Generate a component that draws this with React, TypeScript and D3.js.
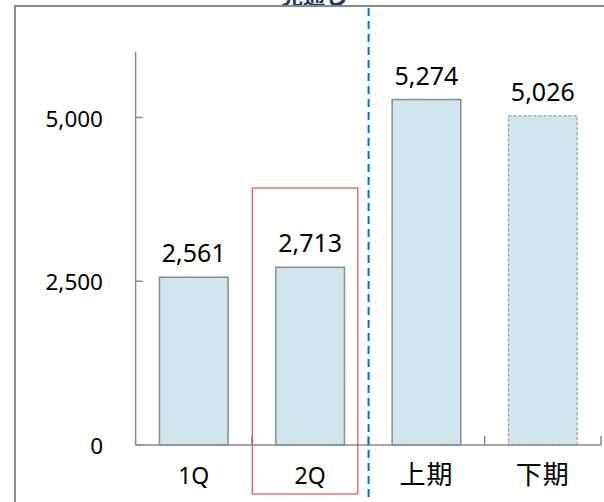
import React from 'react';
import * as d3 from 'd3';

const categories = ['1Q', '2Q', '上期', '下期'];
const values = [2561, 2713, 5274, 5026];
const forecast = [false, false, false, true]; // 下期 is drawn with a dashed outline
const yTicks = [0, 2500, 5000];

const W = 604;
const H = 502;

const App: React.FC = () => {
  const x = d3.scaleBand<string>()
    .domain(categories)
    .range([135.6, 601])
    .paddingInner(0.41)
    .paddingOuter(0.205);

  const y = d3.scaleLinear().domain([0, 6000]).range([445, 52]);
  const fmt = d3.format(',');
  const step = x.step();
  const x0 = x.range()[0];

  const latin = '"Noto Sans", "Open Sans", sans-serif';
  const cjk = '"Noto Sans CJK JP", "Noto Sans", sans-serif';

  return (
    <div style={{ position: 'absolute', left: 0, top: 0 }}>
      <svg width={W} height={H} style={{ display: 'block', background: '#fff' }}>
        {/* title sits mostly above the visible area, as in the source */}
        <text x={314} y={4} textAnchor="middle" fill="#1f3864" fontSize={22}
          fontWeight="bold" fontFamily={cjk}>見通し</text>

        {/* outer frame */}
        <path d={`M15,${H} V6 H${W}`} fill="none" stroke="#8a8a8a" strokeWidth={2} />

        {/* y axis */}
        <line x1={x0} x2={x0} y1={y(6000)} y2={y(0)} stroke="#8a8a8a" strokeWidth={1.5} />
        {yTicks.map(t => (
          <g key={t}>
            <line x1={x0} x2={x0 + 7} y1={y(t)} y2={y(t)} stroke="#8a8a8a" strokeWidth={1.5} />
            <text x={103} y={y(t) + 9} textAnchor="end" fontSize={22.5}
              fontFamily={latin} fill="#000">{fmt(t)}</text>
          </g>
        ))}

        {/* bars */}
        {categories.map((c, i) => (
          <rect key={c}
            x={x(c)!}
            y={y(values[i])}
            width={x.bandwidth()}
            height={y(0) - y(values[i])}
            fill="#cfe6ed"
            stroke={forecast[i] ? '#9a9a9a' : '#8c8c8c'}
            strokeWidth={forecast[i] ? 1.2 : 1.5}
            strokeDasharray={forecast[i] ? '3,2' : undefined}
          />
        ))}

        {/* x axis */}
        <line x1={x0} x2={x.range()[1]} y1={y(0)} y2={y(0)} stroke="#8a8a8a" strokeWidth={1.5} />
        {categories.map((c, i) => (
          <line key={'t' + c} x1={x0 + step * (i + 1)} x2={x0 + step * (i + 1)}
            y1={y(0)} y2={y(0) - 9} stroke="#8a8a8a" strokeWidth={1.5} />
        ))}

        {/* value labels */}
        {categories.map((c, i) => (
          <text key={'v' + c} x={x(c)! + x.bandwidth() / 2} y={y(values[i]) - 15}
            textAnchor="middle" fontSize={25} fontFamily={latin} fill="#000">
            {fmt(values[i])}
          </text>
        ))}

        {/* category labels */}
        {categories.map(c => {
          const latinLabel = /[A-Za-z0-9]/.test(c);
          return (
            <text key={'c' + c} x={x(c)! + x.bandwidth() / 2} y={484}
              textAnchor="middle" fontSize={latinLabel ? 23 : 26}
              letterSpacing={latinLabel ? 0 : 1}
              fontFamily={latinLabel ? latin : cjk} fill="#000">{c}</text>
          );
        })}

        {/* highlight box around 2Q */}
        <rect x={252.3} y={188} width={105.5} height={306} fill="none"
          stroke="#d9534f" strokeWidth={1.2} />

        {/* divider between quarters and halves */}
        <line x1={368.6} x2={368.6} y1={8} y2={H} stroke="#0a6fc2" strokeWidth={2}
          strokeDasharray="8,5" />
      </svg>
    </div>
  );
};

export default App;
